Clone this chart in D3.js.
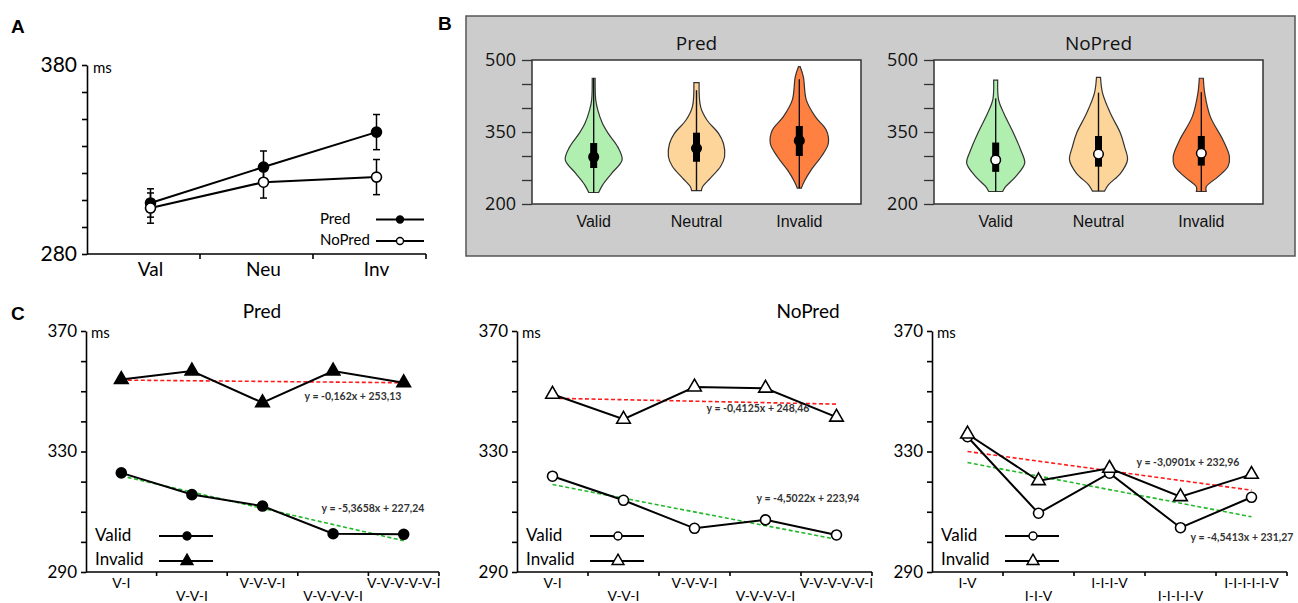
<!DOCTYPE html>
<html>
<head>
<meta charset="utf-8">
<script src="https://cdn.jsdelivr.net/npm/d3@7"></script>
<style>
  body { margin: 0; background: #fff; }
  svg { display: block; }
</style>
</head>
<body>
<div id="chart"></div>
<script>
// ---------- data ----------
// panel A: mean RT per cue condition
var condA = ["Val", "Neu", "Inv"];
var predA = [307, 326, 344.5];
var predErrA = [7.5, 8.5, 9.3];
var noPredA = [304.3, 318, 320.7];
var noPredErrA = [8, 8.4, 9.3];

// panel B: violins, density profile as [ms, relative density]
var condB = ["Valid", "Neutral", "Invalid"];
var predMedian = [298, 316, 332];
var predQ1 = [275, 288, 300];
var predQ3 = [327, 348.6, 362.5];
var predLo = [224, 228, 233];
var predHi = [462, 437, 460];
var predDensity = [
  [[462, 0.05], [417, 0.07], [396, 0.14], [368, 0.3], [347, 0.5], [319, 0.83], [292, 0.98], [264, 0.62], [240, 0.31], [224, 0.17]],
  [[453, 0.09], [403, 0.14], [375, 0.36], [347, 0.76], [326, 0.93], [299, 0.97], [278, 0.83], [254, 0.48], [236, 0.21], [228, 0.17]],
  [[486, 0.03], [465, 0.14], [417, 0.24], [382, 0.55], [354, 0.93], [326, 1.0], [299, 0.76], [271, 0.41], [247, 0.17], [233, 0.07]]
];
var noPredMedian = [291.7, 304, 305.6];
var noPredQ1 = [267, 277.8, 280];
var noPredQ3 = [328, 341.7, 341.7];
var noPredLo = [226, 227, 226];
var noPredHi = [420, 432, 433];
var noPredDensity = [
  [[458, 0.07], [417, 0.1], [389, 0.28], [347, 0.62], [313, 0.86], [285, 1.0], [257, 0.69], [236, 0.34], [226, 0.24]],
  [[464, 0.07], [431, 0.14], [389, 0.41], [347, 0.76], [319, 0.9], [292, 1.0], [264, 0.76], [240, 0.34], [227, 0.21]],
  [[462, 0.07], [430, 0.12], [382, 0.31], [333, 0.75], [299, 0.97], [278, 0.92], [257, 0.58], [236, 0.17], [226, 0.17]]
];

// panel C: sequences
var seqValidFirst = ["V-I", "V-V-I", "V-V-V-I", "V-V-V-V-I", "V-V-V-V-V-I"];
var seqInvalidFirst = ["I-V", "I-I-V", "I-I-I-V", "I-I-I-I-V", "I-I-I-I-I-V"];
var c1Valid = [322.9, 315.7, 311.9, 302.7, 302.5];
var c1Invalid = [353.9, 356.7, 346.2, 356.7, 352.8];
var c2Valid = [321.8, 313.8, 304.5, 307.3, 302.3];
var c2Invalid = [349, 340.7, 351.4, 351, 341.4];
var c3Valid = [334.9, 309.5, 322.8, 304.7, 314.8];
var c3Invalid = [335.8, 320.3, 324.4, 315, 322.4];
var c1Eq = ["y = -5,3658x + 227,24", "y = -0,162x + 253,13"];
var c2Eq = ["y = -4,5022x + 223,94", "y = -0,4125x + 248,46"];
var c3Eq = ["y = -4,5413x + 231,27", "y = -3,0901x + 232,96"];

var violinFill = ["#b0efb0", "#fdd49a", "#fe8142"];
var calibri = "Lato, 'Open Sans', sans-serif";

var svg = d3.select("#chart").append("svg")
    .attr("width", 1298)
    .attr("height", 603);

svg.append("rect").attr("width", 1298).attr("height", 603).attr("fill", "#fff");

function panelLetter(t, x, y) {
    svg.append("text")
        .attr("x", x).attr("y", y)
        .attr("font-family", "'Liberation Sans', Arial, sans-serif")
        .attr("font-weight", "bold")
        .attr("font-size", 19)
        .text(t);
}
panelLetter("A", 11, 33);
panelLetter("B", 438, 30);
panelLetter("C", 11, 320);

// ================= panel A =================
var yA = d3.scaleLinear().domain([280, 380]).range([254, 65]);
var xA = d3.scaleBand().domain(condA).range([87, 426]);
var shiftA = 7;
function cxA(c) { return xA(c) + xA.bandwidth() / 2 + shiftA; }

var tickStep = d3.scaleLinear().domain([0, 7]).range([280, 380]);
var gA = svg.append("g");

gA.append("g")
    .attr("transform", "translate(87,0)")
    .call(d3.axisLeft(yA)
        .tickValues(d3.range(8).map(tickStep))
        .tickSize(5)
        .tickSizeOuter(0)
        .tickPadding(5)
        .tickFormat(function(v) { return (v === 280 || v === 380) ? v : ""; }))
    .call(function(g) {
        g.selectAll("path, line").attr("stroke", "#000").attr("stroke-width", 1.6);
        g.selectAll("text").attr("font-family", calibri).attr("font-size", 21).attr("fill", "#000");
    });

gA.append("line")
    .attr("x1", 87).attr("x2", 426)
    .attr("y1", 254).attr("y2", 254)
    .attr("stroke", "#000").attr("stroke-width", 1.6);

gA.selectAll(".xtick")
    .data(condA)
    .enter()
    .append("line")
    .attr("x1", function(d) { return xA(d) + xA.bandwidth(); })
    .attr("x2", function(d) { return xA(d) + xA.bandwidth(); })
    .attr("y1", 254).attr("y2", 259)
    .attr("stroke", "#000").attr("stroke-width", 1.6);

gA.selectAll(".xlab")
    .data(condA)
    .enter()
    .append("text")
    .attr("x", cxA)
    .attr("y", 276)
    .attr("text-anchor", "middle")
    .attr("font-family", calibri)
    .attr("font-size", 19)
    .text(function(d) { return d; });

gA.append("text")
    .attr("x", 93).attr("y", 73)
    .attr("font-family", calibri).attr("font-size", 15)
    .text("ms");

function seriesA(vals, errs, fill) {
    var pts = condA.map(function(c, i) { return { c: c, v: vals[i], e: errs[i] }; });
    var g = gA.append("g");
    g.append("path")
        .datum(pts)
        .attr("fill", "none")
        .attr("stroke", "#000")
        .attr("stroke-width", 2)
        .attr("d", d3.line().x(function(d) { return cxA(d.c); }).y(function(d) { return yA(d.v); }));
    var eb = g.selectAll(".eb").data(pts).enter().append("g");
    eb.append("line")
        .attr("x1", function(d) { return cxA(d.c); })
        .attr("x2", function(d) { return cxA(d.c); })
        .attr("y1", function(d) { return yA(d.v + d.e); })
        .attr("y2", function(d) { return yA(d.v - d.e); })
        .attr("stroke", "#000").attr("stroke-width", 1.5);
    [1, -1].forEach(function(s) {
        eb.append("line")
            .attr("x1", function(d) { return cxA(d.c) - 3.5; })
            .attr("x2", function(d) { return cxA(d.c) + 3.5; })
            .attr("y1", function(d) { return yA(d.v + s * d.e); })
            .attr("y2", function(d) { return yA(d.v + s * d.e); })
            .attr("stroke", "#000").attr("stroke-width", 1.5);
    });
    g.selectAll("circle").data(pts).enter().append("circle")
        .attr("cx", function(d) { return cxA(d.c); })
        .attr("cy", function(d) { return yA(d.v); })
        .attr("r", 5)
        .attr("fill", fill)
        .attr("stroke", "#000").attr("stroke-width", 1.6);
}
seriesA(predA, predErrA, "#000");
seriesA(noPredA, noPredErrA, "#fff");

// legend A
[["Pred", "#000", 224, 219.5], ["NoPred", "#fff", 245, 241]].forEach(function(l) {
    gA.append("text")
        .attr("x", 320).attr("y", l[2])
        .attr("font-family", calibri).attr("font-size", 15)
        .text(l[0]);
    gA.append("line")
        .attr("x1", 376).attr("x2", 424)
        .attr("y1", l[3]).attr("y2", l[3])
        .attr("stroke", "#000").attr("stroke-width", 2);
    gA.append("circle")
        .attr("cx", 400).attr("cy", l[3]).attr("r", 3.5)
        .attr("fill", l[1]).attr("stroke", "#000").attr("stroke-width", 1.4);
});

// ================= panel B =================
svg.append("rect")
    .attr("x", 466).attr("y", 16)
    .attr("width", 829).attr("height", 240)
    .attr("fill", "#cccccc")
    .attr("stroke", "#555").attr("stroke-width", 1.5);

var yB = d3.scaleLinear().domain([200, 500]).range([204, 60]);
var wB = d3.scaleLinear().domain([0, 1]).range([0, 29]);

function violinPanel(x0, title, density, median, q1, q3, lo, hi, medFill) {
    var xB = d3.scalePoint().domain(condB).range([x0, x0 + 329]).padding(0.6);
    var g = svg.append("g");

    g.append("rect")
        .attr("x", x0).attr("y", 60)
        .attr("width", 329).attr("height", 144)
        .attr("fill", "#fff")
        .attr("stroke", "#333").attr("stroke-width", 1.5);

    g.append("g")
        .attr("transform", "translate(" + x0 + ",0)")
        .call(d3.axisLeft(yB)
            .tickValues(d3.range(200, 501, 50))
            .tickSize(10)
            .tickSizeOuter(0)
            .tickPadding(6)
            .tickFormat(function(v) { return (v - 200) % 150 === 0 ? v : ""; }))
        .call(function(a) {
            a.select(".domain").remove();
            a.selectAll("line").attr("stroke", "#333").attr("stroke-width", 1.3);
            a.selectAll("text").attr("font-family", "'Open Sans', sans-serif").attr("font-size", 18).attr("fill", "#111");
        });

    g.append("text")
        .attr("x", x0 + 164.5).attr("y", 50)
        .attr("text-anchor", "middle")
        .attr("font-family", "'Open Sans', sans-serif").attr("font-size", 19)
        .attr("fill", "#111")
        .text(title);

    condB.forEach(function(c, i) {
        var cx = xB(c);
        var area = d3.area()
            .y(function(d) { return yB(d[0]); })
            .x0(function(d) { return cx - wB(d[1]); })
            .x1(function(d) { return cx + wB(d[1]); })
            .curve(d3.curveCatmullRom);
        g.append("path")
            .datum(density[i])
            .attr("d", area)
            .attr("fill", violinFill[i])
            .attr("stroke", "#333").attr("stroke-width", 1.2);
        g.append("line")
            .attr("x1", cx).attr("x2", cx)
            .attr("y1", yB(hi[i])).attr("y2", yB(lo[i]))
            .attr("stroke", "#111").attr("stroke-width", 1.4);
        g.append("rect")
            .attr("x", cx - 3.5).attr("width", 7)
            .attr("y", yB(q3[i])).attr("height", yB(q1[i]) - yB(q3[i]))
            .attr("fill", "#000");
        g.append("circle")
            .attr("cx", cx).attr("cy", yB(median[i])).attr("r", 4.8)
            .attr("fill", medFill).attr("stroke", "#000").attr("stroke-width", 1.5);
        g.append("text")
            .attr("x", cx).attr("y", 227)
            .attr("text-anchor", "middle")
            .attr("font-family", "'Liberation Sans', Arial, sans-serif").attr("font-size", 16)
            .attr("fill", "#111")
            .text(c);
    });
}
violinPanel(532, "Pred", predDensity, predMedian, predQ1, predQ3, predLo, predHi, "#000");
violinPanel(934, "NoPred", noPredDensity, noPredMedian, noPredQ1, noPredQ3, noPredLo, noPredHi, "#fff");

// ================= panel C =================
var yC = d3.scaleLinear().domain([290, 370]).range([572, 331]);

svg.append("text")
    .attr("x", 262).attr("y", 318)
    .attr("text-anchor", "middle")
    .attr("font-family", calibri).attr("font-size", 19)
    .text("Pred");
svg.append("text")
    .attr("x", 808).attr("y", 318)
    .attr("text-anchor", "middle")
    .attr("font-family", calibri).attr("font-size", 19)
    .text("NoPred");

function linFit(vals) {
    var xs = vals.map(function(v, i) { return i + 1; });
    var mx = d3.mean(xs), my = d3.mean(vals);
    var num = d3.sum(vals, function(v, i) { return (xs[i] - mx) * (v - my); });
    var den = d3.sum(xs, function(x) { return (x - mx) * (x - mx); });
    var b = num / den;
    return function(x) { return my + b * (x - mx); };
}

function seqPanel(x0, x1, cats, valid, invalid, eqs, eqPos, filled) {
    var xC = d3.scaleBand().domain(cats).range([x0, x1]);
    var cx = function(c) { return xC(c) + xC.bandwidth() / 2; };
    var g = svg.append("g");

    g.append("g")
        .attr("transform", "translate(" + x0 + ",0)")
        .call(d3.axisLeft(yC)
            .tickValues(d3.range(290, 371, 10))
            .tickSize(5)
            .tickSizeOuter(0)
            .tickPadding(4)
            .tickFormat(function(v) { return (v - 290) % 40 === 0 ? v : ""; }))
        .call(function(a) {
            a.selectAll("path, line").attr("stroke", "#000").attr("stroke-width", 1.6);
            a.selectAll("text").attr("font-family", calibri).attr("font-size", 17).attr("fill", "#000");
        });

    g.append("text")
        .attr("x", x0 + 5).attr("y", 338)
        .attr("font-family", calibri).attr("font-size", 15)
        .text("ms");

    g.append("line")
        .attr("x1", x0).attr("x2", x1)
        .attr("y1", 572).attr("y2", 572)
        .attr("stroke", "#000").attr("stroke-width", 1.6);
    g.selectAll(".xt").data(cats).enter().append("line")
        .attr("x1", function(d) { return xC(d) + xC.bandwidth(); })
        .attr("x2", function(d) { return xC(d) + xC.bandwidth(); })
        .attr("y1", 572).attr("y2", 576)
        .attr("stroke", "#000").attr("stroke-width", 1.6);
    g.selectAll(".xl").data(cats).enter().append("text")
        .attr("x", cx)
        .attr("y", function(d, i) { return i % 2 === 0 ? 588 : 601; })
        .attr("text-anchor", "middle")
        .attr("font-family", calibri).attr("font-size", 14)
        .text(function(d) { return d; });

    // trend lines
    [[valid, "#22b82a"], [invalid, "#ff1a1a"]].forEach(function(s) {
        var f = linFit(s[0]);
        g.append("line")
            .attr("x1", cx(cats[0])).attr("x2", cx(cats[cats.length - 1]))
            .attr("y1", yC(f(1))).attr("y2", yC(f(cats.length)))
            .attr("stroke", s[1]).attr("stroke-width", 1.6)
            .attr("stroke-dasharray", "4,2.5");
    });

    var line = d3.line().x(function(d, i) { return cx(cats[i]); }).y(function(d) { return yC(d); });
    [valid, invalid].forEach(function(s) {
        g.append("path").datum(s)
            .attr("fill", "none").attr("stroke", "#000").attr("stroke-width", 2)
            .attr("d", line);
    });

    var fill = filled ? "#000" : "#fff";
    g.selectAll(".vc").data(valid).enter().append("circle")
        .attr("cx", function(d, i) { return cx(cats[i]); })
        .attr("cy", function(d) { return yC(d); })
        .attr("r", 5)
        .attr("fill", fill).attr("stroke", "#000").attr("stroke-width", 1.6);
    var tri = d3.symbol().type(d3.symbolTriangle).size(80);
    g.selectAll(".it").data(invalid).enter().append("path")
        .attr("d", tri)
        .attr("transform", function(d, i) { return "translate(" + cx(cats[i]) + "," + yC(d) + ")"; })
        .attr("fill", fill).attr("stroke", "#000").attr("stroke-width", 1.6);

    // equations
    eqs.forEach(function(e, i) {
        g.append("text")
            .attr("x", x0 + eqPos[i][0]).attr("y", eqPos[i][1])
            .attr("text-anchor", "middle")
            .attr("font-family", calibri).attr("font-size", 10.5)
            .attr("font-weight", "bold")
            .attr("fill", "#333")
            .text(e);
    });

    // legend
    [["Valid", 541, 536, "c"], ["Invalid", 565, 561, "t"]].forEach(function(l) {
        g.append("text")
            .attr("x", x0 + 9).attr("y", l[1])
            .attr("font-family", calibri).attr("font-size", 17)
            .text(l[0]);
        g.append("line")
            .attr("x1", x0 + 73).attr("x2", x0 + 127)
            .attr("y1", l[2]).attr("y2", l[2])
            .attr("stroke", "#000").attr("stroke-width", 2);
        if (l[3] === "c") {
            g.append("circle")
                .attr("cx", x0 + 101).attr("cy", l[2]).attr("r", 4)
                .attr("fill", fill).attr("stroke", "#000").attr("stroke-width", 1.5);
        } else {
            g.append("path")
                .attr("d", d3.symbol().type(d3.symbolTriangle).size(60))
                .attr("transform", "translate(" + (x0 + 101) + "," + l[2] + ")")
                .attr("fill", fill).attr("stroke", "#000").attr("stroke-width", 1.5);
        }
    });
}

seqPanel(86, 439, seqValidFirst, c1Valid, c1Invalid, c1Eq, [[287, 512], [267, 400]], true);
seqPanel(517, 872, seqValidFirst, c2Valid, c2Invalid, c2Eq, [[291, 502], [241, 412]], false);
seqPanel(932, 1287, seqInvalidFirst, c3Valid, c3Invalid, c3Eq, [[310, 541], [256, 466]], false);
</script>
</body>
</html>
